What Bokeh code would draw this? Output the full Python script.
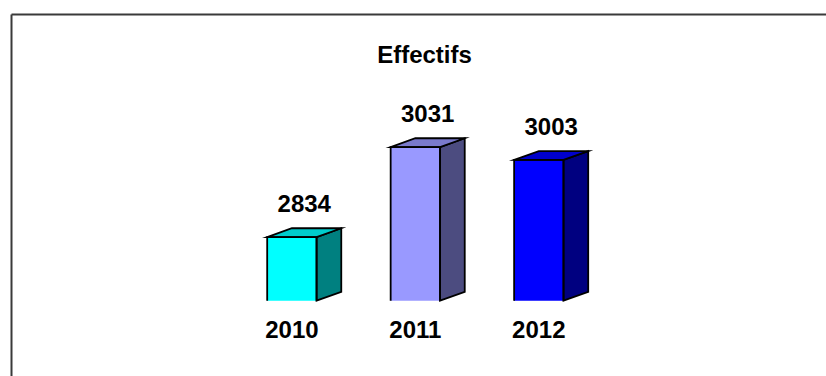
from bokeh.plotting import figure
from bokeh.models import Range1d, ColumnDataSource
from bokeh.core.properties import value
from bokeh.embed import file_html
from bokeh.resources import INLINE

# Data
years = ["2010", "2011", "2012"]
effectifs = [2834, 3031, 3003]
title_text = "Effectifs"

# Cube colours per year: front, side, top
front_colors = ["#00FFFF", "#9999FF", "#0000FF"]
side_colors = ["#008080", "#4C4C80", "#000080"]
top_colors = ["#00CCCC", "#7A7ACC", "#0000CC"]

W, H = 826, 376
X0, X1 = -2.36, 4.33
Y0, Y1 = 2529, 3352
FLOOR = 2695          # value where the cubes are cut off
HALF = 0.2            # half width of a cube front
DX, DY = 0.2, 19.5    # oblique depth of each cube

FONT = value("Liberation Sans")
SIZE = "24px"


def px_x(px):
    return X0 + px * (X1 - X0) / W


def px_y(py):
    return Y1 - py * (Y1 - Y0) / H


p = figure(width=W, height=H, output_backend="svg", toolbar_location=None,
           x_range=Range1d(X0, X1), y_range=Range1d(Y0, Y1),
           min_border=0, outline_line_color=None)
p.axis.visible = False
p.grid.visible = False
p.background_fill_color = "white"
p.border_fill_color = "white"

xs = list(range(len(years)))

# Front faces (fill only; the cut bottom has no edge)
p.quad(left=[x - HALF for x in xs], right=[x + HALF for x in xs],
       bottom=[FLOOR] * len(xs), top=effectifs,
       fill_color=front_colors, line_color=None)

# Side faces
side_xs = [[x + HALF, x + HALF + DX, x + HALF + DX, x + HALF] for x in xs]
side_ys = [[FLOOR, FLOOR + DY, v + DY, v] for v in effectifs]
p.patches(side_xs, side_ys, fill_color=side_colors, line_color="black",
          line_width=1.8, line_join="miter")

# Top faces
top_xs = [[x - HALF, x + HALF, x + HALF + DX, x - HALF + DX] for x in xs]
top_ys = [[v, v, v + DY, v + DY] for v in effectifs]
p.patches(top_xs, top_ys, fill_color=top_colors, line_color="black",
          line_width=1.8, line_join="miter")

# Front edges
edge_xs = [[x - HALF, x - HALF, x + HALF, x + HALF] for x in xs]
edge_ys = [[FLOOR, v, v, FLOOR] for v in effectifs]
p.multi_line(edge_xs, edge_ys, line_color="black", line_width=1.8,
             line_join="miter")

# Value labels above each cube
lab = ColumnDataSource(dict(
    x=[x + DX / 2 for x in xs],
    y=[v + DY for v in effectifs],
    t=[str(v) for v in effectifs],
))
p.text(x="x", y="y", text="t", source=lab, text_font=FONT,
       text_font_style="bold", text_font_size=SIZE, text_color="black",
       text_align="center", text_baseline="alphabetic", y_offset=-25)

# Category labels under the cubes
cat = ColumnDataSource(dict(x=xs, y=[FLOOR] * len(xs), t=years))
p.text(x="x", y="y", text="t", source=cat, text_font=FONT,
       text_font_style="bold", text_font_size=SIZE, text_color="black",
       text_align="center", text_baseline="alphabetic", y_offset=29)

# Chart title
p.text(x=[px_x(424)], y=[px_y(54)], text=[title_text], text_font=FONT,
       text_font_style="bold", text_font_size=SIZE, text_color="black",
       text_align="center", text_baseline="alphabetic")

# Chart area frame (top and left edges)
p.multi_line([[px_x(11), px_x(11)], [px_x(11), px_x(840)]],
             [[px_y(400), px_y(14)], [px_y(14), px_y(14)]],
             line_color="#3a3a3a", line_width=2)

open("out.html", "w").write(file_html(p, INLINE))
